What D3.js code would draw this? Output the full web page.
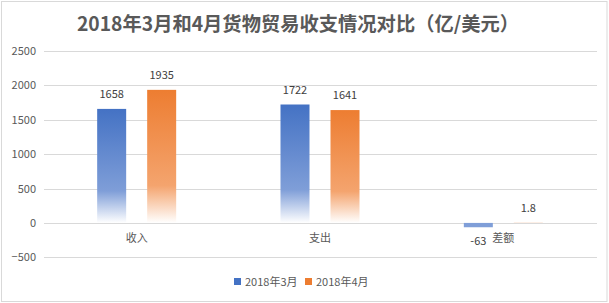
<!DOCTYPE html>
<html><head><meta charset="utf-8">
<script src="https://cdn.jsdelivr.net/npm/d3@7"></script>
<style>
html,body{margin:0;padding:0;background:#fff;}
text{font-family:"Microsoft YaHei","Noto Sans CJK SC","Noto Sans",sans-serif;}
</style></head>
<body><svg id="c" width="609" height="303"></svg>
<script>
const title = "2018年3月和4月货物贸易收支情况对比（亿/美元）";
const categories = ["收入", "支出", "差额"];
const seriesNames = ["2018年3月", "2018年4月"];
const march = [1658, 1722, -63];
const april = [1935, 1641, 1.8];
const yTicks = [-500, 0, 500, 1000, 1500, 2000, 2500];
const colors = ["#4472C4", "#ED7D31"];
const mids = ["#7f9ed8", "#f4a46e"];

const svg = d3.select("#c");
svg.append("rect").attr("x",1.5).attr("y",1.5).attr("width",605.5).attr("height",300)
  .attr("fill","#fff").attr("stroke","#d9d9d9");

const defs = svg.append("defs");
colors.forEach((c,i)=>{
  const g = defs.append("linearGradient").attr("id","g"+i)
    .attr("x1",0).attr("y1",0).attr("x2",0).attr("y2",1);
  g.append("stop").attr("offset","0").attr("stop-color",c);
  g.append("stop").attr("offset","0.72").attr("stop-color",mids[i]);
  g.append("stop").attr("offset","1").attr("stop-color","#ffffff");
});

svg.append("text").attr("x",298).attr("y",31).attr("text-anchor","middle")
  .attr("font-size",19.3).attr("font-weight","bold").attr("fill","#595959").text(title);

const y = d3.scaleLinear().domain([-500,2500]).range([257.3,51]);
const x0 = d3.scaleBand().domain(categories).range([45,595]);
const x1 = d3.scaleBand().domain(seriesNames).range([0,79]).paddingInner(0.42);

// grid
svg.append("g").selectAll("line").data(yTicks).join("line")
  .attr("x1",44).attr("x2",597).attr("y1",d=>Math.round(y(d))+0.5).attr("y2",d=>Math.round(y(d))+0.5)
  .attr("stroke","#d9d9d9").attr("stroke-width",1);

const yAxis = d3.axisLeft(y).tickValues(yTicks).tickSize(0).tickPadding(0).tickFormat(d3.format("d"));
const ga = svg.append("g").attr("transform","translate(36,0)").call(yAxis);
ga.select(".domain").remove();
ga.selectAll("text").attr("font-size",11).attr("fill","#595959")
  .style("font-family",'"Microsoft YaHei","Noto Sans CJK SC",sans-serif');

const data = [march, april];
const off = (x0.bandwidth()-79)/2;
data.forEach((vals,si)=>{
  const g = svg.append("g");
  g.selectAll("rect").data(vals).join("rect")
    .attr("x",(d,i)=>x0(categories[i])+off+x1(seriesNames[si]))
    .attr("width",x1.bandwidth())
    .attr("y",d=>y(Math.max(0,d)))
    .attr("height",d=>Math.abs(y(d)-y(0)))
    .attr("fill",d=> d<0 ? mids[si] : `url(#g${si})`);
  g.selectAll("text").data(vals).join("text")
    .attr("x",(d,i)=>x0(categories[i])+off+x1(seriesNames[si])+x1.bandwidth()/2)
    .attr("y",d=> d<0 ? y(d)+18 : y(d)-11)
    .attr("text-anchor","middle").attr("font-size",11).attr("fill","#404040")
    .text(d=>d);
});

// category labels
svg.append("g").selectAll("text").data(categories).join("text")
  .attr("x",d=>x0(d)+x0.bandwidth()/2).attr("y",242)
  .attr("text-anchor","middle").attr("font-size",11).attr("fill","#595959").text(d=>d);

// legend
const lg = svg.append("g");
const lx = [234, 305];
seriesNames.forEach((s,i)=>{
  lg.append("rect").attr("x",lx[i]).attr("y",278).attr("width",7).attr("height",7).attr("fill",colors[i]);
  lg.append("text").attr("x",lx[i]+11).attr("y",285.5).attr("font-size",11).attr("fill","#595959").text(s);
});
</script></body></html>
